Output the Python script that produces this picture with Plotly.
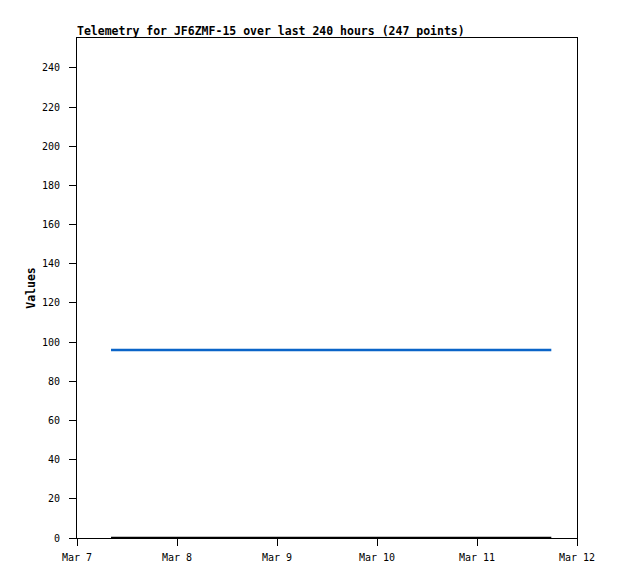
import plotly.graph_objects as go

times = ["2025-03-07 08:10", "2025-03-08 12:00", "2025-03-09 12:00",
         "2025-03-10 12:00", "2025-03-11 17:50"]
series_a = [96, 96, 96, 96, 96]
series_b = [0, 0, 0, 0, 0]

tick_vals = ["2025-03-07", "2025-03-08", "2025-03-09", "2025-03-10", "2025-03-11", "2025-03-12"]
tick_text = ["Mar 7", "Mar 8", "Mar 9", "Mar 10", "Mar 11", "Mar 12"]

font = "DejaVu Sans Mono, Liberation Mono, monospace"

fig = go.Figure()
fig.add_trace(go.Scatter(x=times, y=series_a, mode="lines",
                         line=dict(color="#0a64c8", width=2.5), showlegend=False))
fig.add_trace(go.Scatter(x=times, y=series_b, mode="lines",
                         line=dict(color="#000000", width=2.5), showlegend=False))

fig.update_layout(
    width=618, height=579,
    margin=dict(l=69, r=49, t=30, b=49),
    paper_bgcolor="white", plot_bgcolor="white",
    font=dict(family=font, size=10, color="black"),
    title=dict(text="<b>Telemetry for JF6ZMF-15 over last 240 hours (247 points)</b>",
               x=69/618, xanchor="left", y=1 - 23/579, yanchor="middle",
               font=dict(family=font, size=11.5)),
    xaxis=dict(range=["2025-03-07", "2025-03-12"], tickvals=tick_vals, ticktext=tick_text,
               showgrid=False, zeroline=False, showline=True, linecolor="black", linewidth=1,
               mirror=True, ticks="outside", ticklen=7, tickcolor="black",
               ticklabelstandoff=3),
    yaxis=dict(range=[0, 255.3], tickvals=list(range(0, 241, 20)),
               showgrid=False, zeroline=False, showline=True, linecolor="black", linewidth=1,
               mirror=True, ticks="outside", ticklen=7, tickcolor="black",
               ticklabelstandoff=7,
               title=dict(text="<b>Values</b>", font=dict(family=font, size=11.5), standoff=3)),
)

fig.write_html("out.html")
